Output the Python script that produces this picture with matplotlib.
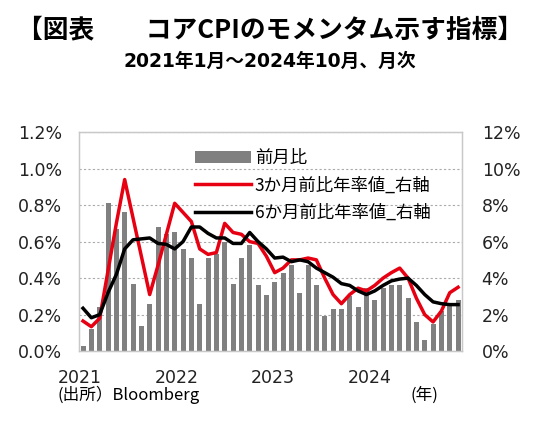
import matplotlib
matplotlib.use('Agg')
import matplotlib.pyplot as plt
import numpy as np

plt.rcParams['font.family'] = ['Noto Sans CJK JP', 'DejaVu Sans']
latin = ['DejaVu Sans', 'Noto Sans CJK JP']

# 2021年1月～2024年10月（46か月）
years = ['2021', '2022', '2023', '2024']

# 前月比（%）
mom = [0.03, 0.12, 0.24, 0.81, 0.67, 0.76, 0.37, 0.14, 0.26, 0.68, 0.64, 0.65,
       0.56, 0.51, 0.26, 0.51, 0.53, 0.60, 0.37, 0.51, 0.58, 0.36, 0.31, 0.38,
       0.43, 0.47, 0.32, 0.47, 0.36, 0.19, 0.23, 0.23, 0.30, 0.24, 0.345, 0.28,
       0.345, 0.36, 0.36, 0.29, 0.16, 0.06, 0.15, 0.22, 0.26, 0.28]

# 3か月前比年率値（右軸、%）
ann3 = [1.65, 1.34, 1.8, 4.4, 7.0, 9.4, 7.3, 5.2, 3.1, 4.7, 6.4, 8.1,
        7.6, 7.1, 5.6, 5.3, 5.4, 7.0, 6.5, 6.4, 6.0, 5.9, 5.2, 4.3,
        4.55, 5.0, 5.0, 5.1, 5.0, 4.0, 3.1, 2.6, 3.1, 3.45, 3.3, 3.6,
        4.0, 4.3, 4.55, 4.0, 2.9, 2.0, 1.6, 2.2, 3.2, 3.5]

# 6か月前比年率値（右軸、%）
ann6 = [2.35, 1.83, 2.0, 3.2, 4.2, 5.6, 6.1, 6.15, 6.2, 5.9, 5.85, 5.6,
        6.0, 6.8, 6.8, 6.45, 6.2, 6.2, 5.9, 5.9, 6.5, 6.0, 5.6, 5.1,
        5.15, 4.9, 5.0, 4.9, 4.55, 4.3, 4.05, 3.7, 3.6, 3.3, 3.1, 3.3,
        3.6, 3.85, 3.95, 4.0, 3.6, 3.1, 2.7, 2.6, 2.55, 2.55]

# 年ラベルの位置（月のインデックス、元図ではやや左寄り）
year_pos = [-0.4, 11.3, 22.8, 34.4]

x = np.arange(len(mom))

fig = plt.figure(figsize=(5.4, 4.33), dpi=100)
ax = fig.add_axes([0.146, 0.189, 0.71, 0.506])
ax2 = ax.twinx()

bars = ax.bar(x, mom, width=0.6, color='#808080', zorder=2)
l3, = ax2.plot(x, ann3, color='#E60012', lw=2.5, zorder=3)
l6, = ax2.plot(x, ann6, color='black', lw=2.5, zorder=4)

ax.set_xlim(-0.5, len(mom) - 0.5)
ax.set_ylim(0, 1.2)
ax2.set_ylim(0, 12)
ax.set_yticks(np.arange(0, 1.21, 0.2))
ax.set_yticklabels([f'{v:.1f}%' for v in np.arange(0, 1.21, 0.2)], family=latin)
ax2.set_yticks(np.arange(0, 12.1, 2))
ax2.set_yticklabels([f'{int(v)}%' for v in np.arange(0, 12.1, 2)], family=latin)

ax.set_xticks(year_pos)
ax.set_xticklabels(years, family=latin)

ax.grid(axis='y', linestyle=(0, (2, 2)), color='#aaaaaa', lw=0.8, zorder=0)
ax.set_axisbelow(True)

for a in (ax, ax2):
    a.tick_params(length=0, labelsize=12.5, colors='#222222')
    for s in a.spines.values():
        s.set_color('#c8c8c8')
        s.set_linewidth(0.9)
ax.tick_params(axis='y', pad=12)
ax2.tick_params(axis='y', pad=14)
ax.tick_params(axis='x', pad=13)

ax2.legend([bars, l3, l6], ['前月比', '3か月前比年率値_右軸', '6か月前比年率値_右軸'],
           loc='upper left', bbox_to_anchor=(0.285, 0.955), frameon=False,
           fontsize=12.5, handlelength=3.2, handletextpad=0.25, labelspacing=0.55,
           borderaxespad=0)

fig.text(0.5, 0.93, '【図表　　コアCPIのモメンタム示す指標】', ha='center', va='center',
         fontsize=18.5, fontweight='bold')
fig.text(0.5, 0.857, '2021年1月～2024年10月、月次', ha='center', va='center',
         fontsize=13.5, fontweight='bold', family=latin)
fig.text(0.107, 0.088, '(出所）Bloomberg', ha='left', va='center', fontsize=12)
fig.text(0.76, 0.088, '(年)', ha='left', va='center', fontsize=12)

fig.savefig('out.png', dpi=100)
